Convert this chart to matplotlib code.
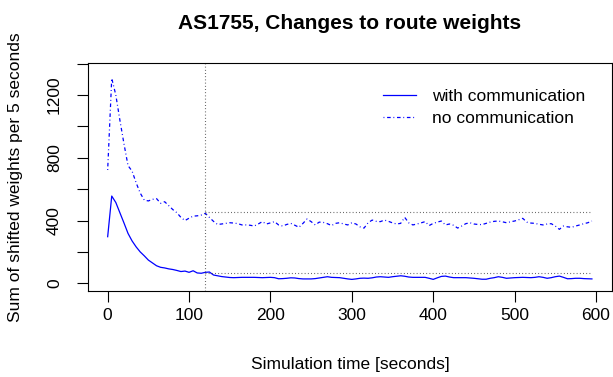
import matplotlib
matplotlib.use("Agg")
import matplotlib.pyplot as plt
import numpy as np

plt.rcParams['font.family'] = ['Liberation Sans', 'DejaVu Sans']

# Data
time_s = list(range(0, 600, 5))
with_comm = [297, 556, 515, 450, 385, 318, 270, 232, 200, 175, 148, 130, 112, 102, 98, 92, 88, 82, 75, 78,
             70, 80, 66, 64, 70, 72, 53, 48, 43, 40, 37, 36, 37, 38, 38, 38, 38, 37, 36, 37,
             38, 36, 29, 30, 32, 35, 34, 30, 28, 28, 28, 30, 34, 38, 42, 38, 37, 36, 32, 28,
             25, 28, 32, 33, 32, 35, 40, 42, 40, 38, 42, 45, 48, 45, 40, 38, 38, 38, 38, 32,
             25, 35, 44, 46, 40, 36, 36, 36, 36, 34, 32, 29, 26, 26, 32, 36, 42, 38, 32, 34,
             36, 37, 38, 37, 36, 38, 42, 38, 32, 36, 42, 46, 38, 29, 30, 32, 32, 30, 29, 28]
no_comm = [722, 1306, 1200, 1040, 890, 750, 715, 640, 575, 530, 525, 535, 540, 510, 520, 495, 470, 450, 420, 400,
           415, 428, 430, 435, 446, 420, 395, 375, 378, 382, 386, 384, 380, 372, 372, 370, 365, 378, 393, 378,
           385, 393, 372, 365, 375, 382, 370, 357, 382, 410, 393, 372, 390, 388, 380, 368, 382, 386, 378, 372,
           386, 378, 360, 352, 386, 403, 395, 393, 403, 395, 385, 378, 382, 420, 385, 372, 378, 385, 393, 368,
           382, 390, 397, 372, 378, 370, 352, 365, 380, 386, 378, 375, 374, 382, 390, 395, 397, 392, 386, 392,
           397, 405, 414, 390, 384, 382, 376, 372, 378, 380, 365, 344, 365, 360, 357, 365, 372, 380, 386, 397]
marker_time = 120
ref_no_comm = 452
ref_with_comm = 68
x_ticks = [0, 100, 200, 300, 400, 500, 600]
y_ticks = [0, 200, 400, 600, 800, 1000, 1200, 1400]
y_tick_labels = ['0', '', '400', '', '800', '', '1200', '']

fig = plt.figure(figsize=(6.13, 3.77), dpi=100)
ax = fig.add_axes([88.3 / 613, 86 / 377, 523.4 / 613, 227.7 / 377])

blue = '#0000ff'
px = 0.72
ax.plot(time_s, with_comm, color=blue, lw=0.9, label='with communication')
ax.plot(time_s, no_comm, color=blue, lw=0.9, dashes=(1 * px, 3 * px, 4 * px, 3 * px),
        label='no communication')

ax.axvline(marker_time, color='#444444', lw=0.8, dashes=(1 * px, 3 * px))
ax.hlines([ref_no_comm, ref_with_comm], marker_time, time_s[-1], color='#444444', lw=0.8,
          linestyles=[(0, (1 * px, 3 * px))])

ax.set_xlim(-23.8, 619.3)
ax.set_ylim(-49, 1402)
ax.set_xticks(x_ticks)
ax.set_yticks(y_ticks)
ax.set_yticklabels(y_tick_labels, rotation=90, va='center')
ax.tick_params(direction='out', length=8, width=0.8, labelsize=12.5)
ax.tick_params(axis='x', pad=4.5)
ax.tick_params(axis='y', pad=11)
for s in ax.spines.values():
    s.set_linewidth(0.8)

ax.set_xlabel('Simulation time [seconds]', fontsize=12.5, va='center')
ax.xaxis.set_label_coords(0.5, (291 - 365) / 227.7)
ax.set_ylabel('Sum of shifted weights per 5 seconds', fontsize=12.5, va='center')
ax.yaxis.set_label_coords((16 - 88.3) / 523.4, 0.5)
fig.text(350 / 613, 1 - 23.5 / 377, 'AS1755, Changes to route weights', fontsize=15,
         fontweight='bold', ha='center', va='center')

leg = ax.legend(loc='upper left', bbox_to_anchor=(0.563, 0.886), frameon=False, fontsize=12.5,
                handlelength=1.9, handletextpad=0.9, labelspacing=0.35, borderaxespad=0,
                borderpad=0)

fig.savefig('out.png', dpi=100)
